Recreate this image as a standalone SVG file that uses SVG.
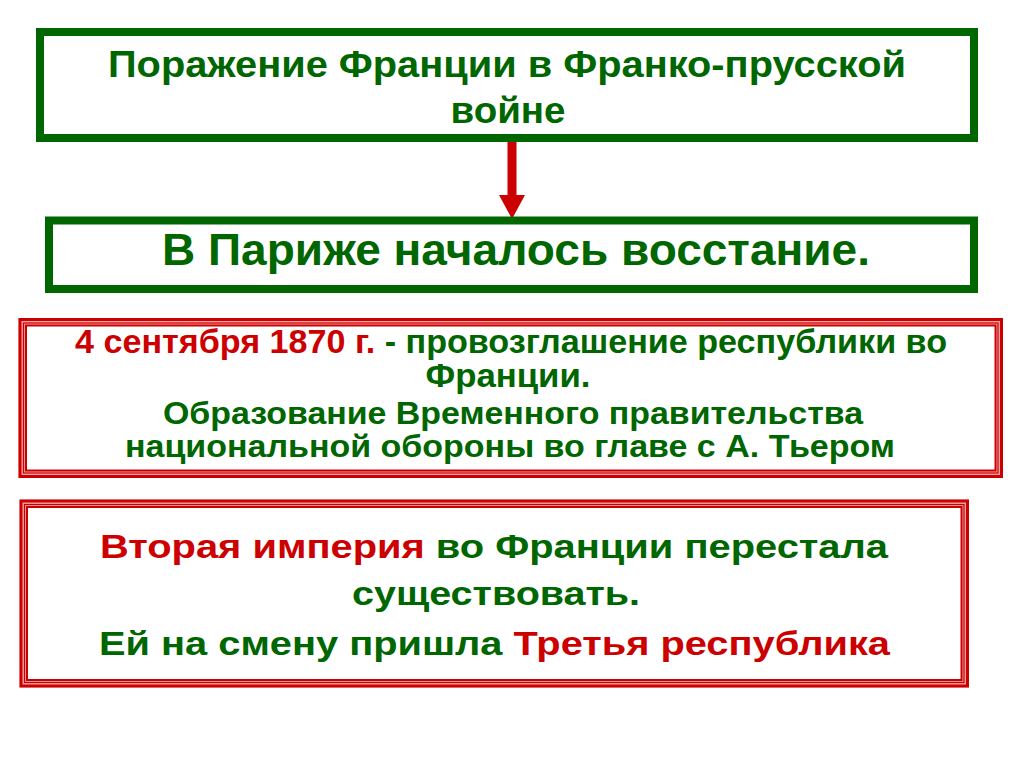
<svg xmlns="http://www.w3.org/2000/svg" width="1024" height="767" viewBox="0 0 1024 767">
<style>
.g{fill:#006600}
.r{fill:#cc0000}
text{font-family:"Liberation Sans",Arial,sans-serif;font-weight:bold;text-anchor:middle}
.gb{fill:#fff;stroke:#006600;stroke-width:8}
.rb0{fill:#f2a3a3;stroke:none}
.rb1{fill:none;stroke:#cc0000;stroke-width:3}
.rb2{fill:none;stroke:#cc0000;stroke-width:1.2}
.rb3{fill:#fff;stroke:#cc0000;stroke-width:2}
</style>
<rect width="1024" height="767" fill="#fff"/>
<g id="connectors">
<rect x="507.5" y="142" width="9" height="54" fill="#cc0000"/>
<polygon points="499,195 525,195 512,219" fill="#cc0000"/>
</g>
<g id="node1">
<rect class="gb" x="40" y="32" width="934" height="106"/>
<text class="g" x="507" y="77" font-size="36" textLength="798" lengthAdjust="spacingAndGlyphs">Поражение Франции в Франко-прусской</text>
<text class="g" x="508" y="123" font-size="36" textLength="115" lengthAdjust="spacingAndGlyphs">войне</text>
</g>
<g id="node2">
<rect class="gb" x="49" y="220.5" width="925" height="68.5"/>
<text class="g" x="516" y="265" font-size="45" textLength="708" lengthAdjust="spacingAndGlyphs">В Париже началось восстание.</text>
</g>
<g id="node3">
<rect class="rb0" x="18.5" y="318" width="984.5" height="160"/>
<rect class="rb1" x="20" y="319.5" width="981.5" height="157"/>
<rect class="rb2" x="23.5" y="323" width="974.5" height="150"/>
<rect class="rb3" x="26" y="325.5" width="969.5" height="145"/>
<text x="511" y="353" font-size="33" textLength="872" lengthAdjust="spacingAndGlyphs"><tspan class="r">4 сентября 1870 г.</tspan><tspan class="g"> - провозглашение республики во</tspan></text>
<text class="g" x="508" y="387" font-size="33" textLength="165" lengthAdjust="spacingAndGlyphs">Франции.</text>
<text class="g" x="513" y="424" font-size="32" textLength="700" lengthAdjust="spacingAndGlyphs">Образование Временного правительства</text>
<text class="g" x="510" y="457" font-size="32" textLength="770" lengthAdjust="spacingAndGlyphs">национальной обороны во главе с А. Тьером</text>
</g>
<g id="node4">
<rect class="rb0" x="19.5" y="499.5" width="949.5" height="188"/>
<rect class="rb1" x="21" y="501" width="946.5" height="185"/>
<rect class="rb2" x="24.5" y="504.5" width="939.5" height="178"/>
<rect class="rb3" x="27" y="507" width="934.5" height="173"/>
<text x="494" y="558" font-size="33" textLength="788" lengthAdjust="spacingAndGlyphs"><tspan class="r">Вторая империя</tspan><tspan class="g"> во Франции перестала</tspan></text>
<text class="g" x="496" y="605" font-size="33" textLength="288" lengthAdjust="spacingAndGlyphs">существовать.</text>
<text x="494.5" y="655" font-size="33" textLength="791" lengthAdjust="spacingAndGlyphs"><tspan class="g">Ей на смену пришла </tspan><tspan class="r">Третья республика</tspan></text>
</g>
</svg>
